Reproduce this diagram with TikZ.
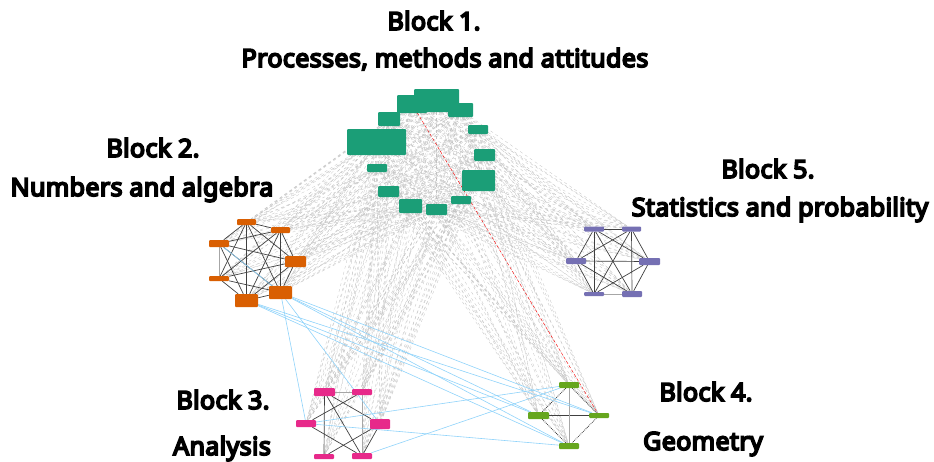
\documentclass[tikz,border=0pt]{standalone}
\usepackage{fontspec}
\setmainfont{Noto Sans}[BoldFont={Noto Sans},BoldFeatures={FakeBold=7,LetterSpace=1.5}]
\usepackage{xcolor}
\usetikzlibrary{backgrounds}

\begin{document}
\begin{tikzpicture}[x=1pt,y=-1pt,
  mynode/.style={rectangle,rounded corners=1pt,inner sep=0pt,draw=none},
  blocktext/.style={font=\fontsize{25}{28}\selectfont\bfseries,anchor=base,inner sep=0pt},
  inedge/.style={draw=black!75,line width=0.7pt},
  lightedge/.style={draw=black!35,line width=0.8pt},
  dotedge/.style={draw=black!75,densely dotted,line width=0.8pt},
  grayedge/.style={draw=black!24,dashed,line width=0.3pt},
  blueedge/.style={draw=skyline,line width=0.6pt},
  rededge/.style={draw=red,densely dashed,line width=0.4pt}]
\definecolor{blockone}{HTML}{1B9E77}
\definecolor{blocktwo}{HTML}{D95F02}
\definecolor{blockthree}{HTML}{E7298A}
\definecolor{blockfour}{HTML}{66A61E}
\definecolor{blockfive}{HTML}{7570B3}
\definecolor{skyline}{HTML}{8FD3FA}
\useasboundingbox (0,0) rectangle (934,461);
% nodes of the five blocks
\foreach \nm/\x/\y/\w/\h in {g1/412/104/30/18,g2/436.5/100.5/45/23,g3/460.5/110/25/14,
  g4/389/119/22/14,g5/376.5/142/59/26,g6/478/129.5/20/9,g7/484.5/155/21/12,
  g8/478.5/180.5/33/21,g9/377/168/20/8,g10/388.5/191.5/21/11,g11/410.5/206/23/14,
  g12/436.5/209.5/21/11,g13/461/200/20/8}
  {\node [mynode,fill=blockone,minimum width=\w pt,minimum height=\h pt] (\nm) at (\x,\y) {};}
\foreach \nm/\x/\y/\w/\h in {o1/246.5/222/19/6,o2/280.5/230/19/6,o3/219/243.5/20/7,
  o4/295.5/261.5/21/11,o5/219/278.5/20/5,o6/280.5/292.5/23/13,o7/246.5/300.5/23/13}
  {\node [mynode,fill=blocktwo,minimum width=\w pt,minimum height=\h pt] (\nm) at (\x,\y) {};}
\foreach \nm/\x/\y/\w/\h in {p1/324.5/392/21/8,p2/362/392/20/6,p3/306/423.5/20/7,
  p4/380/424/20/10,p5/324/456.5/20/5,p6/362/456/20/6}
  {\node [mynode,fill=blockthree,minimum width=\w pt,minimum height=\h pt] (\nm) at (\x,\y) {};}
\foreach \nm/\x/\y/\w/\h in {q1/569/385/20/6,q2/538.5/415.5/21/7,q3/599/415.5/20/5,q4/569/446/20/6}
  {\node [mynode,fill=blockfour,minimum width=\w pt,minimum height=\h pt] (\nm) at (\x,\y) {};}
\foreach \nm/\x/\y/\w/\h in {v1/594/229/20/5,v2/631.5/229/19/5,v3/576/261/20/6,
  v4/649.5/261.5/21/7,v5/594/294/20/4,v6/632/294/20/6}
  {\node [mynode,fill=blockfive,minimum width=\w pt,minimum height=\h pt] (\nm) at (\x,\y) {};}

\begin{scope}[on background layer]
% block 1 to everything
\foreach \s in {1,...,12}
  {\pgfmathtruncatemacro\nx{\s+1}
   \foreach \t in {\nx,...,13} {\draw [grayedge] (g\s) -- (g\t);}}
\foreach \s in {1,...,13}
  {\foreach \t in {o1,o2,o3,o4,o5,o6,o7,p1,p2,p3,p4,p5,p6,q1,q2,q3,q4,v1,v2,v3,v4,v5,v6}
   {\draw [grayedge] (g\s) -- (\t);}}
% inside the blocks
\foreach \s in {1,...,6}
  {\pgfmathtruncatemacro\nx{\s+1}
   \foreach \t in {\nx,...,7} {\draw [inedge] (o\s) -- (o\t);}}
\foreach \s in {1,...,5}
  {\pgfmathtruncatemacro\nx{\s+1}
   \foreach \t in {\nx,...,6} {\draw [inedge] (v\s) -- (v\t);}}
\draw [lightedge] (v5) -- (v6);
\draw [lightedge] (o3) -- (o5);
\foreach \a/\b in {p1/p5,p1/p4,p1/p6,p2/p3,p3/p6,p4/p5,p4/p6}
  {\draw [inedge] (\a) -- (\b);}
\draw [lightedge] (p1) -- (p2);
\draw [lightedge] (p2) -- (p6);
\foreach \a/\b in {q1/q2,q1/q3,q2/q4,q3/q4}
  {\draw [dotedge] (\a) -- (\b);}
\draw [inedge] (q2) -- (q3);
\draw [lightedge] (q1) -- (q4);
% between blocks 2, 3 and 4
\foreach \a/\b in {o3/o6,o6/p3,o6/p4,o6/q2,o6/q3,o6/q4,o7/q2,o7/q3,o7/q4,p3/q1,p3/q4,p6/q1}
  {\draw [blueedge] (\a) -- (\b);}
\draw [rededge] (g1.center) -- (q3);
\end{scope}

\node [blocktext] (t1) at (434,30) {Block 1.};
\node [blocktext] (t1b) at (445,67) {Processes, methods and attitudes};
\node [blocktext] (t2) at (153,157) {Block 2.};
\node [blocktext] (t2b) at (142,196) {Numbers and algebra};
\node [blocktext] (t5) at (768,178) {Block 5.};
\node [blocktext] (t5b) at (780,216) {Statistics and probability};
\node [blocktext] (t3) at (223,409) {Block 3.};
\node [blocktext] (t3b) at (222,455) {Analysis};
\node [blocktext] (t4) at (706,401) {Block 4.};
\node [blocktext] (t4b) at (703,450) {Geometry};
\end{tikzpicture}
\end{document}
